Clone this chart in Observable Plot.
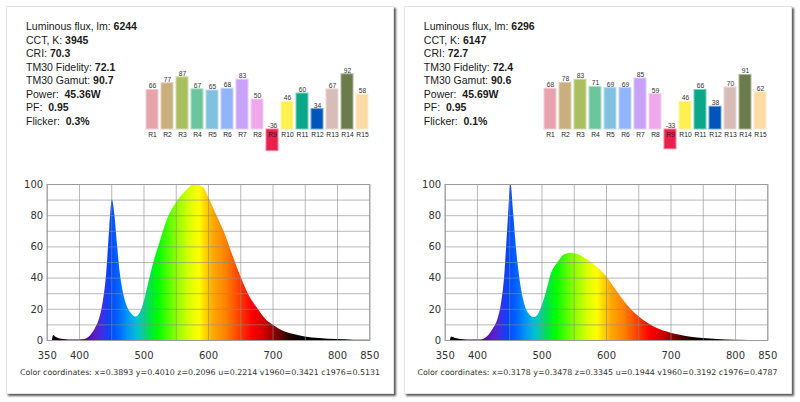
<!DOCTYPE html>
<html><head><meta charset="utf-8">
<script src="https://cdn.jsdelivr.net/npm/d3@7"></script>
<script src="https://cdn.jsdelivr.net/npm/@observablehq/plot@0.6"></script>
<style>
html,body{margin:0;padding:0;background:#fff;}
#page{position:relative;width:800px;height:402px;overflow:hidden;background:#fff;}
.card{position:absolute;top:6px;width:388px;height:388px;background:#fff;border:1px solid #e4e4e4;box-shadow:2px 2px 2px rgba(0,0,0,0.65);box-sizing:border-box;}
.stats{position:absolute;font-family:"Liberation Sans",Arial,sans-serif;font-size:10.5px;line-height:13.57px;color:#1a1a1a;white-space:pre;}
.stats b{font-weight:bold;}
.caption{position:absolute;font-family:"DejaVu Sans",Verdana,sans-serif;font-size:7.9px;line-height:10px;color:#333;text-align:center;white-space:pre;}
.abs{position:absolute;}
</style>
</head><body>
<div id="page"></div>
<script>
// ---------- data ----------
const categories = ["R1","R2","R3","R4","R5","R6","R7","R8","R9","R10","R11","R12","R13","R14","R15"];
const barColors = ["#e8a4ac","#c9ae7e","#aabf60","#6dc59d","#80c1e0","#92b4fa","#c9a2f9","#f0a8ec","#e8204c","#fdf050","#0aa888","#0055bb","#d8bcb7","#6b7c4c","#fddba4"];
const rValuesA = [66,77,87,67,65,68,83,50,-36,46,60,34,67,92,58];
const rValuesB = [68,78,83,71,69,69,85,59,-33,46,66,38,70,91,62];

const statLabels = ["Luminous flux, lm: ","CCT, K: ","CRI: ","TM30 Fidelity: ","TM30 Gamut: ","Power:  ","PF:  ","Flicker:  "];
const statValuesA = ["6244","3945","70.3","72.1","90.7","45.36W","0.95","0.3%"];
const statValuesB = ["6296","6147","72.7","72.4","90.6","45.69W","0.95","0.1%"];

const captionA = "Color coordinates: x=0.3893 y=0.4010 z=0.2096 u=0.2214 v1960=0.3421 c1976=0.5131";
const captionB = "Color coordinates: x=0.3178 y=0.3478 z=0.3345 u=0.1944 v1960=0.3192 c1976=0.4787";

const xTicks = [350,400,500,600,700,800,850];
const yTicks = [0,20,40,60,80,100];

const specWlA = [358,360,363,370,380,390,400,408,416,424,432,437,442,447,451,455,459,463,468,473,481,488,494,500,507,514,525,535,550,566,578,592,600,613,626,639,650,664,677,690,700,716,731,750,772,800,825,850];
const specValA = [0,3.2,2.2,1.0,0.5,0.3,0.4,0.6,2.5,7,15,25,42,72,90,80,61,44,31,23,17,15,17.5,24,36,48,63,76,88,96,100,98,92,80,68,53,41,28,20,13,10,6,4,2.3,1.3,0.6,0.2,0.1];
const specWlB = [358,360,365,372,385,400,408,416,424,432,437,442,447,452,456,460,465,470,475,482,488,494,500,507,514,525,535,546,556,571,587,600,613,626,639,650,664,677,700,716,731,750,772,800,850];
const specValB = [0,2.2,1.5,0.8,0.3,0.3,0.5,2.5,7,14,23,40,72,100,82,61,42,29,21,16,14.7,16.4,22,31,42,50,55,56,55,51.6,46.5,41,33.5,26,19.6,15.4,11,8,4.7,3.2,2.1,1.3,0.6,0.2,0.05];

// wavelength -> colour stops for the spectrum fill
const gradWl = [350,395,410,425,437,448,462,475,488,498,508,522,548,570,586,596,608,628,648,668,688,702,716,731,746,850];
const gradCol = ["#000000","#1a0030","#4a0a9a","#5a20c8","#3a30e8","#0046ff","#0066ff","#0096f5","#00bcd8","#00d0a0","#00e050","#00ff00","#80ff00","#d8ff00","#ffff00","#ffd400","#ffa800","#ff8000","#ff4000","#ff0000","#d00000","#900000","#500000","#1a0000","#000000","#000000"];

// ---------- drawing ----------
const page = document.getElementById("page");

function place(el, left, top) {
  el.classList.add("abs");
  el.style.left = left + "px";
  el.style.top = top + "px";
  page.appendChild(el);
}

function panel(off, cardLeft, values, stats, caption, wl, val, gid) {
  const card = document.createElement("div");
  card.className = "card";
  card.style.left = cardLeft + "px";
  page.appendChild(card);

  // stats text
  const st = document.createElement("div");
  st.className = "stats";
  st.innerHTML = statLabels.map((l, i) => `${l}<b>${stats[i]}</b>`).join("\n");
  st.style.left = (26 + off) + "px";
  st.style.top = "20.1px";
  page.appendChild(st);

  // bar chart
  const bars = categories.map((c, i) => ({r: c, v: values[i], color: barColors[i], edge: d3.interpolateRgb(barColors[i], "#ffffff")(0.45)}));
  const barChart = Plot.plot({
    width: 250, height: 110,
    marginLeft: 8.9, marginRight: 5.5, marginTop: 9, marginBottom: 17,
    x: {domain: categories, padding: 0.2, axis: null},
    y: {domain: [-40, 100], axis: null},
    color: {type: "identity"},
    style: {fontFamily: "'Liberation Sans', Arial, sans-serif", background: "transparent", overflow: "visible"},
    marks: [
      Plot.barY(bars, {x: "r", y: "v", fill: "color", stroke: "edge", strokeWidth: 1}),
      Plot.text(bars, {x: "r", y: d => Math.max(0, d.v), text: d => String(d.v), lineAnchor: "bottom", dy: -1.5, fontSize: 6.7, fill: "#333"}),
      Plot.text(bars, {x: "r", y: 0, text: "r", lineAnchor: "top", dy: 2.8, fontSize: 6.7, fill: "#222"})
    ]
  });
  place(barChart, 130 + off, 60);

  // spectrum
  const spec = wl.map((w, i) => ({w, v: val[i]}));
  const chart = Plot.plot({
    width: 390, height: 200,
    marginLeft: 46.7, marginRight: 20.7, marginTop: 14, marginBottom: 30,
    x: {domain: [350, 850], ticks: xTicks, tickSize: 0, tickPadding: 11, label: null},
    y: {domain: [0, 100], ticks: yTicks, tickSize: 0, tickPadding: 4, label: null},
    style: {fontFamily: "'DejaVu Sans', Verdana, sans-serif", fontSize: "10px", color: "#333", background: "transparent", overflow: "visible"},
    marks: [
      Plot.areaY(spec, {x: "w", y: "v", fill: `url(#${gid})`, curve: "monotone-x"}),
      Plot.ruleX(d3.range(350, 851, 50), {stroke: "#8a8a8a", strokeOpacity: 0.6}),
      Plot.ruleY(d3.range(0, 101, 10), {stroke: "#8a8a8a", strokeOpacity: 0.6}),
      Plot.frame({stroke: "#9a9a9a"})
    ]
  });
  const xs = chart.scale("x");
  const svg = d3.select(chart.tagName.toLowerCase() === "svg" ? chart : chart.querySelector("svg"));
  const grad = svg.insert("defs", ":first-child").append("linearGradient")
    .attr("id", gid).attr("gradientUnits", "userSpaceOnUse")
    .attr("x1", xs.apply(350)).attr("x2", xs.apply(850)).attr("y1", 0).attr("y2", 0);
  gradWl.forEach((w, i) => {
    grad.append("stop").attr("offset", (w - 350) / 500).attr("stop-color", gradCol[i]);
  });
  place(chart, off, 170);

  // caption
  const cap = document.createElement("div");
  cap.className = "caption";
  cap.textContent = caption;
  cap.style.left = cardLeft + "px";
  cap.style.width = "388px";
  cap.style.top = "368.3px";
  page.appendChild(cap);
}

panel(0, 6, rValuesA, statValuesA, captionA, specWlA, specValA, "gradA");
panel(397.8, 403.5, rValuesB, statValuesB, captionB, specWlB, specValB, "gradB");
</script>
</body></html>
